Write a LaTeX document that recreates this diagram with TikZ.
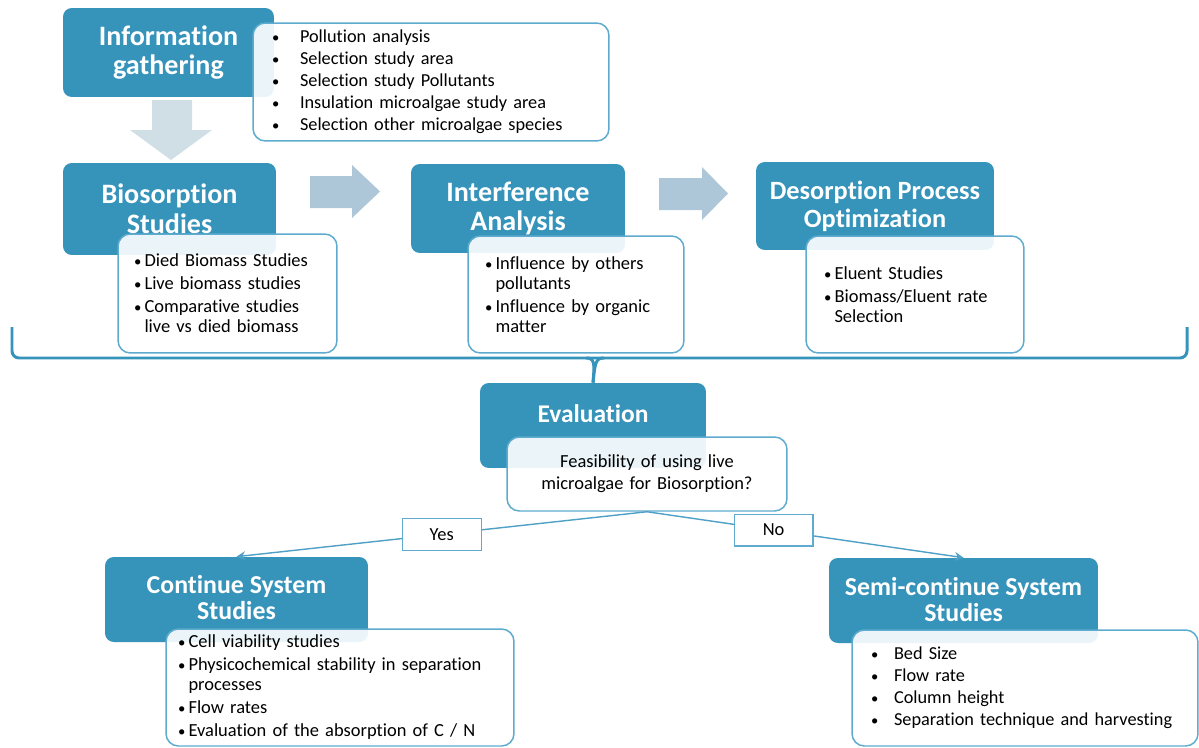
\documentclass[tikz,border=0pt]{standalone}
\usepackage{fontspec}
\setmainfont{Carlito}[Ligatures=CommonOff]
\usetikzlibrary{arrows.meta}
\definecolor{stageblue}{RGB}{54,147,186}
\definecolor{notesline}{RGB}{94,171,207}
\definecolor{flowline}{RGB}{79,160,198}
\definecolor{downarrow}{RGB}{207,223,229}
\definecolor{sidearrow}{RGB}{173,198,216}
\newcommand{\dotitem}[1][0.21cm]{\makebox[#1][l]{\scalebox{0.8}{\textbullet}}}
\newcommand{\dotpad}{\hspace*{0.21cm}}
\begin{document}
\begin{tikzpicture}[x=0.02cm,y=-0.02cm]
   \tikzstyle{stage}=[fill=stageblue, rounded corners=5pt, text=white, align=center, inner sep=0pt]
   \tikzstyle{stagebig}=[stage, font=\fontsize{16}{17}\selectfont\bfseries]
   \tikzstyle{stagemid}=[stage, font=\fontsize{15}{16}\selectfont\bfseries]
   \tikzstyle{stagelow}=[stage, font=\fontsize{14.7}{14.8}\selectfont\bfseries]
   \tikzstyle{notes}=[draw=notesline, line width=0.85pt, fill=white, fill opacity=0.9, text opacity=1,
                      rounded corners=7pt, align=left, inner ysep=0pt, font=\fontsize{10.5}{11.4}\selectfont]
   \tikzstyle{answer}=[draw=notesline, line width=0.7pt, fill=white, inner sep=0pt,
                       minimum width=1.58cm, minimum height=0.64cm, font=\fontsize{10.5}{12}\selectfont]
   \tikzstyle{flow}=[draw=flowline, line width=0.8pt, -{Stealth[length=5pt,width=5pt]}]
   \tikzstyle{bracket}=[draw=stageblue, line width=1.7pt]
   \useasboundingbox (0,0) rectangle (1199,747);

   \node[stagebig, minimum width=4.22cm, minimum height=1.78cm] (info) at (168.5,52.5) {Information\\gathering};
   \node[stagebig, minimum width=4.26cm, minimum height=1.84cm] (bio) at (169.5,209) {Biosorption\\Studies};
   \node[stagebig, minimum width=4.28cm, minimum height=1.78cm] (interf) at (518,208.5) {Interference\\Analysis};
   \node[stagemid, minimum width=4.76cm, minimum height=1.76cm] (desorp) at (875,206) {Desorption Process\\Optimization};
   \node[stage, minimum width=4.52cm, minimum height=1.70cm] (eval) at (593,425.5) {};
   \node[text=white, font=\fontsize{14.5}{16}\selectfont\bfseries] (evaltitle) at (593,414) {Evaluation};
   \node[stagelow, minimum width=5.26cm, minimum height=1.70cm, text depth=0.1cm] (cont) at (236.5,599.5) {Continue System\\Studies};
   \node[stagelow, minimum width=5.38cm, minimum height=1.70cm, text depth=0.05cm] (semi) at (963.5,600.5) {Semi-continue System\\Studies};

   \fill[downarrow] (152,100) -- (192,100) -- (192,130) -- (212,130) -- (171,160) -- (130,130) -- (152,130) -- cycle;
   \fill[sidearrow] (310,176) -- (352,176) -- (352,165) -- (380,191.5) -- (352,218) -- (352,208) -- (310,208) -- cycle;
   \fill[sidearrow] (659,178) -- (702,178) -- (702,167) -- (728,193.5) -- (702,220) -- (702,210) -- (659,210) -- cycle;

   \node[notes, minimum width=7.12cm, minimum height=2.36cm, inner xsep=0.38cm, text width=6.36cm,
         font=\fontsize{10.4}{12.5}\selectfont] (infolist) at (431,82)
     {\dotitem[0.56cm]Pollution analysis\\
      \dotitem[0.56cm]Selection study area\\
      \dotitem[0.56cm]Selection study Pollutants\\
      \dotitem[0.56cm]Insulation microalgae study area\\
      \dotitem[0.56cm]Selection other microalgae species};
   \node[notes, minimum width=4.38cm, minimum height=2.38cm, inner xsep=0.32cm, text width=3.74cm] (biolist) at (227.5,293.5)
     {\dotitem Died Biomass Studies\\[1.7pt]
      \dotitem Live biomass studies\\[1.7pt]
      \dotitem Comparative studies\\
      \dotpad live vs died biomass};
   \node[notes, minimum width=4.32cm, minimum height=2.34cm, inner xsep=0.34cm, text width=3.64cm] (interflist) at (576,294.5)
     {\dotitem Influence by others\\
      \dotpad pollutants\\[1.7pt]
      \dotitem Influence by organic\\
      \dotpad matter};
   \node[notes, minimum width=4.36cm, minimum height=2.34cm, inner xsep=0.36cm, text width=3.64cm] (desorplist) at (915,294.5)
     {\dotitem Eluent Studies\\[1.7pt]
      \dotitem Biomass/Eluent rate\\
      \dotpad Selection};
   \node[notes, minimum width=5.60cm, minimum height=1.48cm, inner xsep=0.2cm, text width=5.20cm, align=center,
         font=\fontsize{10.5}{12.5}\selectfont] (feas) at (647,474)
     {Feasibility of using live\\microalgae for Biosorption?};
   \node[notes, minimum width=6.96cm, minimum height=2.34cm, inner xsep=0.24cm, text width=6.48cm] (contlist) at (340,687.5)
     {\dotitem Cell viability studies\\[1.7pt]
      \dotitem Physicochemical stability in separation\\
      \dotpad processes\\[1.7pt]
      \dotitem Flow rates\\[1.7pt]
      \dotitem Evaluation of the absorption of C / N};
   \node[notes, minimum width=6.92cm, minimum height=2.32cm, inner xsep=0.38cm, text width=6.16cm,
         font=\fontsize{10.4}{12.5}\selectfont] (semilist) at (1025,688)
     {\dotitem[0.46cm]Bed Size\\
      \dotitem[0.46cm]Flow rate\\
      \dotitem[0.46cm]Column height\\
      \dotitem[0.46cm]Separation technique and harvesting};

   \draw[bracket, rounded corners=4pt] (12,327) -- (12,358) -- (1187,358) -- (1187,327);
   \draw[bracket] (586,358) .. controls (594,358) and (595,362) .. (eval.north);
   \draw[bracket] (604,358) .. controls (596,358) and (595,362) .. (eval.north);

   \draw[flow] (feas.south) -- node[answer, pos=0.5] (yes) {Yes} (cont.north);
   \draw[flow] (feas.south) -- node[answer, pos=0.4] (no) {No} (semi.north);
 \end{tikzpicture}
\end{document}
